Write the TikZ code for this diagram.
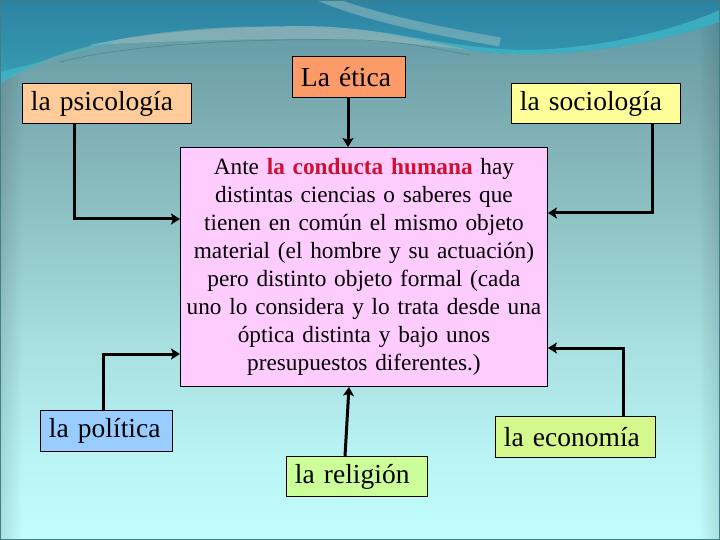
\documentclass[tikz,border=0pt]{standalone}
\usepackage{fontspec}
\setmainfont{Liberation Serif}
\usetikzlibrary{arrows.meta,fadings}
\definecolor{bg1}{HTML}{5A97A6}
\definecolor{bg2}{HTML}{74A5AC}
\definecolor{bg3}{HTML}{8BBEC1}
\definecolor{bg4}{HTML}{A6DCDD}
\definecolor{bg5}{HTML}{BAF4F4}
\definecolor{bg6}{HTML}{C2FEFE}
\definecolor{topdark}{HTML}{2C82A2}
\definecolor{topmid}{HTML}{389DB3}
\definecolor{brightcyan}{HTML}{3FB9C9}
\definecolor{ribbon}{HTML}{8DB8BE}
\definecolor{grayband}{HTML}{86B2B7}
\definecolor{frame}{HTML}{3E7F89}
\definecolor{cpsi}{HTML}{FFCC99}
\definecolor{ceti}{HTML}{FC9A68}
\definecolor{csoc}{HTML}{FFFF99}
\definecolor{cmain}{HTML}{FFCCFF}
\definecolor{cpol}{HTML}{99CCFF}
\definecolor{crel}{HTML}{CCFF99}
\definecolor{ceco}{HTML}{D4F88C}
\definecolor{hred}{HTML}{CC1133}
\pgfdeclareverticalshading{bgshade}{100bp}{color(0bp)=(bg6); color(25bp)=(bg6); color(32.4bp)=(bg5); color(44.4bp)=(bg4); color(56.5bp)=(bg3); color(67.6bp)=(bg2); color(75bp)=(bg1); color(100bp)=(bg1)}
\tikzset{
  lbl/.style={draw=black, line width=0.9pt, anchor=north west, align=left,
    inner xsep=8.5pt, inner ysep=0pt, font=\fontsize{27.5}{31}\selectfont},
  mainbox/.style={draw=black, line width=0.9pt, fill=cmain, anchor=north west,
    align=center, inner xsep=0pt, inner ysep=0pt, text width=367pt,
    minimum height=239pt, font=\fontsize{23.3}{28}\selectfont},
  conn/.style={line width=3pt, -{Stealth[length=9pt,width=11pt,inset=2pt]}}
}
\begin{document}
\begin{tikzpicture}[x=1pt,y=-1pt]
\useasboundingbox (0,0) rectangle (720,540);
% background
\shade[shading=bgshade] (0,0) rectangle (720,540);
\fill[black, opacity=0.12, path fading=east] (0,0) rectangle (22,540);
\fill[black, opacity=0.12, path fading=west] (698,0) rectangle (720,540);
% top waves
\shade[top color=topdark, bottom color=topmid]
  (0,0) -- (0,82) .. controls (50,52) and (120,32) .. (230,27)
  .. controls (320,24) and (400,36) .. (470,50)
  .. controls (530,60) and (630,52) .. (720,22) -- (720,0) -- cycle;
\fill[grayband, opacity=0.85]
  (90,45) .. controls (150,32) and (220,27) .. (300,26)
  .. controls (360,26) and (420,38) .. (470,50)
  .. controls (420,44) and (360,39) .. (300,39)
  .. controls (220,39) and (150,42) .. (90,45) -- cycle;
\fill[brightcyan, opacity=0.7]
  (0,84) .. controls (30,65) and (70,50) .. (120,40)
  .. controls (80,52) and (40,62) .. (0,72) -- cycle;
\fill[brightcyan, opacity=0.75]
  (380,32) .. controls (430,40) and (470,48) .. (520,50)
  .. controls (600,50) and (680,28) .. (720,10) -- (720,22)
  .. controls (630,52) and (530,60) .. (470,50)
  .. controls (440,44) and (410,38) .. (380,32) -- cycle;
\draw[ribbon, line width=9pt, opacity=0.6]
  (318,-4) .. controls (360,14) and (420,28) .. (500,42);
\draw[frame, line width=0.8pt, opacity=0.6]
  (60,62) .. controls (130,44) and (250,38) .. (360,40)
  .. controls (410,42) and (440,50) .. (470,55);
\draw[frame, line width=2pt] (0,0) rectangle (720,540);
% nodes
\node[lbl, fill=cpsi, text width=152pt, minimum height=40pt] (psi) at (22,83) {la psicología};
\node[lbl, fill=ceti, text width=96pt, minimum height=41pt] (eti) at (292,56) {La ética};
\node[lbl, fill=csoc, text width=152pt, minimum height=40pt] (soc) at (511,83) {la sociología};
\node[mainbox] (main) at (180,147) {Ante \textcolor{hred}{\textbf{la conducta humana}} hay\\
distintas ciencias o saberes que\\
tienen en común el mismo objeto\\
material (el hombre y su actuación)\\
pero distinto objeto formal (cada\\
uno lo considera y lo trata desde una\\
óptica distinta y bajo unos\\
presupuestos diferentes.)};
\node[lbl, fill=cpol, text width=115pt, minimum height=41pt] (pol) at (40,410) {la política};
\node[lbl, fill=crel, text width=124pt, minimum height=40pt] (rel) at (286,456) {la religión};
\node[lbl, fill=ceco, text width=143pt, minimum height=41pt] (eco) at (495,416) {la economía};
% connectors
\draw[conn] ([xshift=52pt]psi.south west) |- ([yshift=-72pt]main.north west);
\draw[conn] ([xshift=56pt]eti.south west) -- ([xshift=56pt]eti.south west |- main.north);
\draw[conn] ([xshift=141pt]soc.south west) |- ([yshift=-66pt]main.north east);
\draw[conn] ([xshift=63pt]pol.north west) |- ([yshift=-207pt]main.north west);
\draw[conn] ([xshift=128pt]eco.north west) |- ([yshift=-201pt]main.north east);
\draw[conn] ([xshift=59pt]rel.north west) -- ([xshift=169pt]main.south west);
\end{tikzpicture}
\end{document}
